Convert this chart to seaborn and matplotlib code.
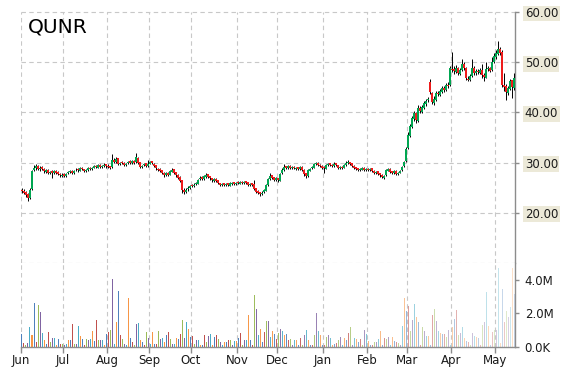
import numpy as np
import pandas as pd
import matplotlib
matplotlib.use('Agg')
import matplotlib.pyplot as plt
import seaborn as sns

ticker = 'QUNR'

# trading days, jun 2014 - may 2015
dates = pd.bdate_range('2014-06-02', '2015-05-14').drop(pd.to_datetime(['2014-07-04', '2014-09-01']))

opens = [
    24.6, 24.4, 24.1, 23.8, 23.0, 24.8, 28.6, 28.9, 29.4, 28.7, 29.1, 28.8, 28.2, 28.6, 27.9, 28.3, 27.9, 28.4, 28.1, 27.7, 27.4,  # jun
    27.7, 27.3, 27.9, 28.1, 28.4, 27.9, 28.5, 28.7, 28.4, 29.0, 28.7, 28.3, 28.5, 29.0, 28.7, 29.0, 29.4, 29.0, 29.6, 29.1, 29.3, 29.7,  # jul
    29.4, 29.3, 29.1, 30.5, 30.1, 30.9, 29.7, 30.1, 30.0, 29.5, 29.9, 30.3, 29.9, 30.4, 30.1, 31.0, 30.1, 29.1, 29.5, 29.9, 29.3,  # aug
    29.8, 30.3, 29.8, 29.5, 28.8, 28.7, 28.5, 27.9, 27.5, 28.0, 27.6, 28.2, 28.7, 28.1, 27.6, 27.1, 26.5, 24.6, 24.1, 24.7, 24.9,  # sep
    25.5, 25.3, 25.7, 25.8, 26.7, 27.1, 26.7, 27.2, 27.7, 27.3, 26.9, 26.4, 26.8, 26.5, 25.9, 25.5, 25.9, 25.5, 25.9, 25.4, 25.8, 26.1, 25.7,  # oct
    26.1, 25.8, 26.2, 25.9, 26.3, 26.1, 25.5, 25.9, 25.7, 24.9, 24.3, 24.1, 23.7, 24.1, 24.4, 25.5, 26.7, 27.5, 27.1, 26.5,  # nov
    26.9, 26.4, 27.9, 28.5, 29.3, 28.9, 29.4, 28.9, 29.2, 28.8, 29.1, 28.7, 29.2, 28.6, 27.9, 27.3, 28.4, 28.9, 29.0, 29.7, 30.0, 29.6, 29.4,  # dec
    29.2, 28.8, 29.5, 29.9, 29.6, 29.3, 29.9, 29.5, 28.9, 29.2, 29.0, 29.5, 29.9, 30.1, 29.9, 29.4, 29.1, 28.9, 28.5, 28.6, 29.0, 28.5,  # jan
    28.8, 28.5, 28.9, 28.4, 27.9, 28.3, 27.9, 27.6, 27.0, 27.5, 28.4, 28.8, 28.3, 27.9, 28.4, 27.7, 28.0, 28.5, 29.3, 30.3,  # feb
    33.0, 35.3, 37.0, 38.6, 39.9, 38.3, 40.9, 40.0, 40.9, 41.7, 42.4, 46.0, 43.8, 41.8, 42.5, 43.9, 43.5, 44.1, 44.9, 44.4, 45.5, 45.4,  # mar
    48.7, 48.6, 48.0, 48.9, 47.7, 48.5, 49.7, 48.9, 46.6, 46.4, 47.3, 48.9, 47.8, 48.3, 47.9, 48.5, 47.5, 46.9, 48.7, 48.9, 48.4, 50.1,  # apr
    51.0, 51.7, 52.7, 52.0, 45.4, 45.2, 43.9, 44.6, 46.4, 44.8,  # may
]
highs = [
    25.0, 24.7, 24.3, 24.0, 24.9, 28.6, 29.6, 29.7, 29.6, 29.3, 29.3, 29.0, 28.8, 28.7, 28.4, 28.5, 28.6, 28.6, 28.3, 28.0, 27.9,
    27.9, 28.0, 28.4, 28.6, 28.5, 28.6, 28.9, 28.9, 29.1, 29.2, 28.8, 28.8, 29.1, 29.2, 29.2, 29.6, 29.6, 29.8, 29.7, 29.6, 29.9, 29.8,
    29.7, 29.4, 31.8, 30.9, 31.2, 31.0, 30.2, 30.4, 30.1, 30.0, 30.4, 30.5, 30.5, 30.5, 32.0, 31.1, 30.2, 29.6, 30.0, 30.0, 30.5,
    30.4, 30.4, 29.9, 29.6, 29.0, 28.9, 28.6, 28.1, 28.2, 28.1, 28.5, 28.9, 28.8, 28.2, 27.7, 27.3, 26.6, 24.9, 24.9, 25.3, 25.5,
    25.8, 25.9, 26.1, 26.8, 27.3, 27.4, 27.5, 27.9, 27.8, 27.4, 27.0, 26.9, 26.9, 26.6, 26.0, 26.0, 26.0, 26.0, 26.0, 26.1, 26.2, 26.2, 26.2,
    26.3, 26.3, 26.3, 26.4, 26.4, 26.2, 26.0, 26.0, 26.6, 25.0, 24.5, 24.2, 24.3, 24.8, 25.8, 27.0, 27.9, 27.6, 27.2, 27.2,
    27.0, 28.0, 28.9, 29.7, 29.4, 29.5, 29.5, 29.3, 29.3, 29.2, 29.2, 29.3, 29.3, 28.7, 28.0, 28.7, 29.0, 29.3, 30.0, 30.2, 30.1, 29.8, 29.5,
    29.3, 29.8, 30.0, 30.0, 29.8, 30.1, 30.0, 29.6, 29.3, 29.3, 29.8, 30.3, 30.5, 30.2, 30.0, 29.5, 29.2, 29.0, 28.9, 29.1, 29.1, 28.9,
    29.0, 29.0, 29.0, 28.5, 28.4, 28.4, 28.0, 27.7, 27.6, 28.8, 29.0, 28.9, 28.4, 28.5, 28.5, 28.2, 28.6, 29.4, 30.4, 33.2,
    36.0, 37.6, 39.2, 40.3, 40.1, 41.4, 41.2, 41.5, 42.2, 42.6, 43.0, 46.6, 44.0, 43.2, 44.2, 44.3, 44.6, 45.2, 45.3, 45.9, 46.0, 49.3,
    52.0, 49.2, 49.4, 49.1, 48.8, 50.6, 50.0, 49.0, 47.2, 47.6, 50.6, 49.2, 48.6, 48.7, 48.9, 49.6, 47.8, 50.0, 49.3, 49.1, 51.0, 51.8,
    52.5, 54.2, 53.0, 52.4, 47.8, 45.6, 45.3, 46.6, 46.5, 47.8,
]
lows = [
    24.0, 23.7, 23.2, 22.3, 22.8, 24.6, 28.3, 28.6, 28.5, 28.4, 28.5, 28.0, 28.0, 27.7, 27.7, 27.0, 27.8, 27.8, 27.5, 27.2, 27.1,
    27.1, 27.2, 27.8, 27.9, 27.8, 27.8, 28.3, 28.2, 28.3, 28.5, 28.1, 28.2, 28.4, 28.6, 28.6, 28.9, 28.9, 28.9, 29.0, 29.0, 29.2, 29.0,
    29.0, 28.8, 29.0, 29.9, 30.0, 29.6, 29.5, 29.8, 29.4, 29.4, 29.8, 29.8, 29.8, 29.8, 30.0, 29.8, 28.9, 28.9, 29.3, 29.2, 29.2,
    29.7, 29.7, 29.1, 28.6, 28.3, 28.1, 27.8, 27.2, 27.3, 27.3, 27.5, 28.1, 27.8, 27.2, 26.7, 26.1, 24.0, 23.8, 23.9, 24.4, 24.7,
    25.1, 25.1, 25.5, 25.7, 26.5, 26.6, 26.5, 27.0, 27.0, 26.6, 26.2, 26.2, 26.2, 25.7, 25.3, 25.3, 25.4, 25.3, 25.3, 25.3, 25.6, 25.6, 25.6,
    25.7, 25.7, 25.8, 25.8, 25.8, 25.4, 25.4, 25.4, 24.5, 23.9, 23.7, 23.4, 23.5, 23.9, 24.3, 25.4, 26.6, 26.7, 26.3, 26.4,
    26.1, 26.3, 27.8, 28.4, 28.8, 28.8, 28.8, 28.8, 28.7, 28.6, 28.6, 28.6, 28.3, 27.3, 27.0, 27.2, 28.3, 28.8, 28.9, 29.6, 29.3, 29.1, 28.7,
    28.0, 28.7, 29.4, 29.3, 29.2, 29.2, 29.4, 28.8, 28.7, 28.8, 28.9, 29.4, 29.8, 29.6, 29.1, 28.8, 28.6, 28.4, 28.4, 28.5, 28.4, 28.3,
    28.4, 28.4, 28.1, 27.8, 27.8, 27.6, 27.2, 26.9, 26.8, 27.4, 28.3, 28.0, 27.7, 27.8, 27.6, 27.6, 27.9, 28.4, 29.1, 30.2,
    32.8, 35.0, 36.8, 38.2, 37.8, 38.0, 39.8, 39.8, 40.6, 41.3, 42.0, 43.6, 41.6, 41.5, 42.3, 43.2, 43.3, 43.8, 44.0, 44.2, 44.8, 45.2,
    48.0, 47.6, 47.8, 47.4, 47.5, 48.3, 48.4, 46.4, 46.2, 46.2, 47.1, 47.5, 47.5, 47.6, 47.7, 46.8, 46.2, 46.8, 48.3, 48.0, 48.2, 49.8,
    50.6, 51.4, 51.5, 45.0, 44.2, 42.4, 43.5, 44.4, 42.8, 44.5,
]
closes = [
    24.3, 24.0, 23.6, 22.9, 24.6, 28.4, 29.0, 29.3, 28.8, 29.0, 28.7, 28.3, 28.5, 28.0, 28.2, 27.9, 28.3, 28.0, 27.8, 27.5, 27.6,
    27.4, 27.8, 28.2, 28.3, 28.0, 28.4, 28.6, 28.5, 28.9, 28.7, 28.4, 28.6, 28.9, 28.8, 29.0, 29.3, 29.1, 29.5, 29.2, 29.4, 29.6, 29.3,
    29.2, 29.0, 30.6, 30.2, 30.8, 29.8, 29.9, 30.0, 29.6, 29.8, 30.2, 30.0, 30.3, 30.0, 31.2, 30.0, 29.2, 29.4, 29.8, 29.4, 29.8,
    30.2, 29.9, 29.4, 28.9, 28.6, 28.4, 28.0, 27.6, 27.9, 27.6, 28.3, 28.6, 28.0, 27.5, 27.0, 26.4, 24.5, 24.2, 24.6, 25.0, 25.3,
    25.4, 25.6, 25.9, 26.6, 27.0, 26.8, 27.3, 27.6, 27.2, 26.9, 26.5, 26.7, 26.4, 25.9, 25.6, 25.8, 25.6, 25.8, 25.5, 25.9, 26.0, 25.8, 26.0,
    25.9, 26.1, 26.0, 26.2, 26.0, 25.6, 25.8, 25.6, 24.8, 24.2, 24.0, 23.8, 24.0, 24.5, 25.6, 26.8, 27.4, 27.0, 26.6, 26.9,
    26.5, 27.8, 28.6, 29.2, 29.0, 29.3, 29.0, 29.1, 28.9, 29.0, 28.8, 29.1, 28.5, 27.8, 27.4, 28.5, 28.8, 29.1, 29.8, 29.9, 29.5, 29.3, 29.0,
    28.9, 29.6, 29.8, 29.5, 29.4, 29.8, 29.6, 29.0, 29.1, 29.0, 29.6, 30.0, 30.2, 29.8, 29.3, 29.0, 28.8, 28.6, 28.7, 28.9, 28.6, 28.7,
    28.6, 28.8, 28.3, 28.0, 28.2, 27.8, 27.5, 27.1, 27.4, 28.5, 28.7, 28.2, 28.0, 28.3, 27.8, 28.0, 28.4, 29.2, 30.2, 32.8,
    35.5, 37.2, 38.8, 39.8, 38.4, 40.8, 40.2, 41.0, 41.8, 42.2, 42.6, 44.0, 42.0, 42.6, 43.8, 43.6, 44.2, 44.8, 44.5, 45.4, 45.2, 48.8,
    48.5, 48.2, 48.8, 47.8, 48.4, 49.6, 48.8, 46.8, 46.5, 47.2, 48.8, 47.9, 48.2, 48.0, 48.4, 47.4, 47.0, 48.6, 48.8, 48.3, 50.0, 51.2,
    51.8, 52.6, 51.9, 45.5, 45.0, 44.0, 44.8, 46.2, 45.0, 46.8,
]
# volume in millions of shares
volumes_m = [
    0.76, 0.24, 0.1, 0.24, 1.18, 0.7, 2.6, 0.3, 2.5, 2.1, 0.86, 0.4, 0.15, 0.92, 0.3, 0.51, 0.51, 0.1, 0.45, 0.2, 0.18,
    0.1, 0.2, 0.42, 0.42, 1.37, 0.15, 0.2, 1.25, 0.66, 0.47, 0.1, 0.49, 0.42, 0.45, 0.96, 0.35, 1.6, 0.39, 0.39, 0.42, 0.1, 0.76,
    0.88, 1.0, 4.05, 0.2, 1.5, 3.35, 0.71, 0.45, 0.15, 0.1, 2.9, 0.51, 0.27, 0.1, 1.37, 1.4, 0.4, 0.27, 0.1, 0.88, 0.51,
    0.2, 0.9, 0.15, 0.2, 0.94, 0.5, 0.56, 0.3, 0.71, 0.9, 0.5, 0.15, 0.2, 0.51, 0.49, 0.76, 1.6, 0.51, 1.5, 1.1, 0.6,
    0.65, 0.2, 0.39, 0.39, 0.14, 0.1, 0.71, 0.27, 0.65, 0.76, 0.1, 0.57, 0.71, 0.45, 0.27, 0.1, 0.29, 0.29, 0.39, 0.43, 0.1, 0.37, 0.37,
    0.55, 0.82, 0.1, 0.39, 0.43, 1.88, 0.43, 0.1, 3.12, 2.29, 0.71, 1.1, 0.3, 0.9, 1.55, 1.52, 0.57, 0.96, 0.76, 0.45,
    0.86, 1.1, 0.96, 0.71, 0.75, 0.39, 0.47, 0.1, 0.43, 0.39, 0.1, 0.53, 0.1, 0.71, 1.0, 0.39, 0.1, 0.1, 0.71, 2.02, 0.96, 0.71, 0.1,
    0.1, 0.57, 0.71, 0.53, 0.1, 0.2, 0.24, 0.39, 0.57, 0.1, 0.53, 0.39, 0.82, 1.18, 0.1, 0.53, 0.45, 0.29, 0.45, 0.1, 1.0, 0.76,
    0.33, 0.1, 0.1, 0.27, 0.27, 0.45, 0.98, 0.1, 0.53, 0.45, 0.57, 0.1, 0.57, 0.33, 0.27, 0.24, 0.1, 1.25, 2.9, 2.14,
    2.47, 0.96, 1.6, 2.55, 1.8, 1.5, 0.1, 1.18, 0.96, 0.65, 0.65, 0.1, 1.88, 2.29, 1.57, 0.96, 0.86, 0.76, 0.76, 0.57, 1.04, 0.1,
    1.18, 1.65, 2.2, 0.71, 0.82, 1.18, 0.53, 0.33, 0.27, 0.1, 0.82, 0.65, 0.57, 0.53, 0.1, 1.3, 1.5, 3.25, 1.25, 0.1, 0.9, 1.0,
    1.04, 4.73, 0.24, 3.46, 1.5, 2.12, 1.8, 2.4, 4.73, 3.18,
]

price_ticks = [20, 30, 40, 50, 60]
volume_ticks = [0, 2e6, 4e6]
volume_labels = ['0.0K', '2.0M', '4.0M']

df = pd.DataFrame({'date': dates, 'open': opens, 'high': highs, 'low': lows,
                   'close': closes, 'volume': np.array(volumes_m) * 1e6})
df['idx'] = np.arange(len(df))
n = len(df)

sns.set_style('white')
plt.rcParams['font.family'] = ['DejaVu Sans']

W, H = 570, 370
fig = plt.figure(figsize=(W / 100, H / 100), dpi=100)
left, right = 21, 515
ax = fig.add_axes([left / W, 1 - 263 / H, (right - left) / W, 251 / H])
axv = fig.add_axes([left / W, 1 - 347 / H, (right - left) / W, 84 / H])

grid_kw = dict(color='#c8c8c8', lw=0.8, ls=(0, (4, 3)))
spine_col = '#8c8c8c'
text_col = '#1a1a1a'

# candles
up = df['close'] >= df['open']
body_col = np.where(up, '#00a651', '#ee1c1c')
ax.vlines(df['idx'], df['low'], df['high'], color='black', lw=0.7, zorder=3)
ax.bar(df['idx'], (df['close'] - df['open']).abs().clip(lower=0.08),
       bottom=df[['open', 'close']].min(axis=1), width=0.55,
       color=body_col, linewidth=0, zorder=4)

# volume bars, office colours cycling, fading towards the end
office = ['#4f81bd', '#c0504d', '#9bbb59', '#8064a2', '#4bacc6', '#f79646']
pal = {i: office[i % 6] for i in df['idx']}
sns.barplot(data=df, x='idx', y='volume', hue='idx', palette=pal, native_scale=True,
            width=0.5, legend=False, saturation=1, ax=axv, linewidth=0)
fade = np.clip(1 - (df['idx'].to_numpy() - 110) / (n - 110) * 0.72, 0.28, 1)
for p, a in zip(axv.patches, fade):
    p.set_alpha(a)

# month ticks
months = df['date'].dt.month.to_numpy()
starts = np.flatnonzero(np.r_[True, months[1:] != months[:-1]])
month_pos = starts - 0.5
month_lab = df['date'].iloc[starts].dt.strftime('%b').tolist()

for a in (ax, axv):
    a.set_xlim(-0.5, n - 0.5)
    a.set_xticks(month_pos)
    a.set_xlabel('')
    a.set_ylabel('')
    for x in month_pos:
        a.axvline(x, zorder=0, **grid_kw)
    a.yaxis.tick_right()
    for s in ('top', 'left'):
        a.spines[s].set_visible(False)
    a.spines['right'].set_color(spine_col)
    a.spines['right'].set_linewidth(1)

ax.set_ylim(10, 60)
ax.set_yticks(price_ticks)
ax.set_yticklabels([f'{v:.2f}' for v in price_ticks])
for v in price_ticks + [10]:
    ax.axhline(v, zorder=0, clip_on=False, **grid_kw)
ax.spines['bottom'].set_visible(False)
ax.tick_params(axis='x', bottom=False, labelbottom=False)
ax.tick_params(axis='y', right=True, length=3, width=1, color=spine_col, pad=4,
               labelsize=8.5, labelcolor=text_col)
for lbl in ax.get_yticklabels():
    lbl.set_bbox(dict(boxstyle='square,pad=0.12', fc='#ece9d8', ec='none'))

axv.set_ylim(0, 5e6)
axv.set_yticks(volume_ticks)
axv.set_yticklabels(volume_labels)
axv.set_xticklabels(month_lab)
axv.spines['bottom'].set_color(spine_col)
axv.spines['bottom'].set_linewidth(1)
axv.tick_params(axis='y', right=True, length=3, width=1, color=spine_col, pad=4,
                labelsize=8.5, labelcolor=text_col)
axv.tick_params(axis='x', bottom=True, length=4, width=1, color=spine_col, pad=1,
                labelsize=8.5, labelcolor=text_col)

ax.text(0.014, 0.978, ticker, transform=ax.transAxes, fontsize=14.5,
        color='black', ha='left', va='top')

fig.savefig('out.png', dpi=100)
